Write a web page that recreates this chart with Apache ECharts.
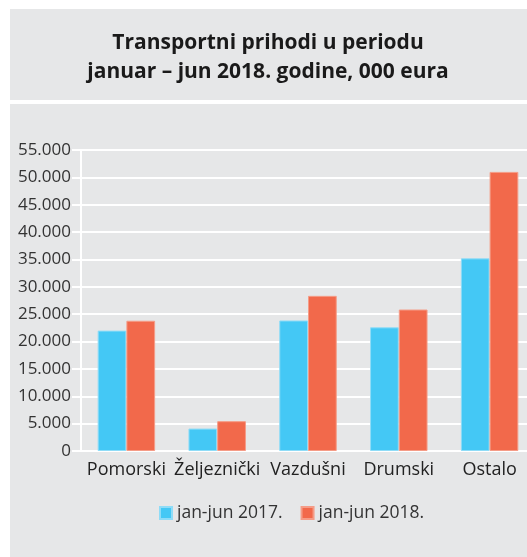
<!DOCTYPE html>
<html>
<head>
<meta charset="utf-8">
<script src="https://cdn.jsdelivr.net/npm/echarts@6/dist/echarts.min.js"></script>
<style>
  html, body { margin: 0; padding: 0; background: #fff; }
  #chart { width: 527px; height: 557px; }
</style>
</head>
<body>
<div id="chart"></div>
<script>
  // podaci
  var categoryLabels = ['Pomorski', 'Željeznički', 'Vazdušni', 'Drumski', 'Ostalo'];
  var seriesNames = ['jan-jun 2017.', 'jan-jun 2018.'];
  var values2017 = [22000, 4100, 23850, 22600, 35200];
  var values2018 = [23800, 5450, 28350, 25850, 51000];
  var titleLines = ['Transportni prihodi u periodu', 'januar – jun 2018. godine, 000 eura'];

  var chart = echarts.init(document.getElementById('chart'));
  var panel = '#e6e7e8';

  function fmt(v) {
    return String(v).replace(/\B(?=(\d{3})+(?!\d))/g, '.');
  }

  var option = {
    animation: false,
    backgroundColor: '#fff',
    textStyle: { fontFamily: 'Open Sans' },
    graphic: [
      { type: 'rect', z: -10, shape: { x: 10, y: 9, width: 517, height: 91 }, style: { fill: panel } },
      { type: 'rect', z: -10, shape: { x: 10, y: 104, width: 517, height: 453 }, style: { fill: panel } },
      {
        type: 'text', x: 268, y: 29,
        style: {
          text: titleLines.join('\n'),
          fill: '#1a1a1a',
          font: 'bold 21px "Open Sans"',
          align: 'center',
          lineHeight: 29
        }
      }
    ],
    legend: {
      data: seriesNames,
      left: 154,
      top: 499,
      icon: 'rect',
      itemWidth: 12,
      itemHeight: 12,
      itemGap: 18,
      textStyle: { color: '#333', fontSize: 17.5 }
    },
    grid: {
      left: 81,
      top: 150,
      width: 454,
      height: 301,
      outerBoundsMode: 'none'
    },
    xAxis: {
      type: 'category',
      data: categoryLabels,
      axisLine: { lineStyle: { color: '#fff', width: 2 } },
      axisTick: { show: false },
      axisLabel: { color: '#222', fontSize: 18, margin: 10, interval: 0 }
    },
    yAxis: {
      type: 'value',
      min: 0,
      max: 55000,
      interval: 5000,
      axisLine: { show: true, lineStyle: { color: '#fff', width: 2 } },
      axisTick: { show: true, length: 9, lineStyle: { color: '#fff', width: 2 } },
      splitLine: { lineStyle: { color: '#fff', width: 2 } },
      axisLabel: {
        color: '#333',
        fontSize: 17,
        margin: 10,
        formatter: function (v) { return fmt(v); }
      }
    },
    series: [
      {
        name: seriesNames[0],
        type: 'bar',
        data: values2017,
        barGap: '0%',
        barCategoryGap: '36.7%',
        itemStyle: { color: '#44c8f5', borderColor: '#8fdcf7', borderWidth: 1 }
      },
      {
        name: seriesNames[1],
        type: 'bar',
        data: values2018,
        itemStyle: { color: '#f2694b', borderColor: '#f59c87', borderWidth: 1 }
      }
    ]
  };

  chart.setOption(option);
</script>
</body>
</html>
